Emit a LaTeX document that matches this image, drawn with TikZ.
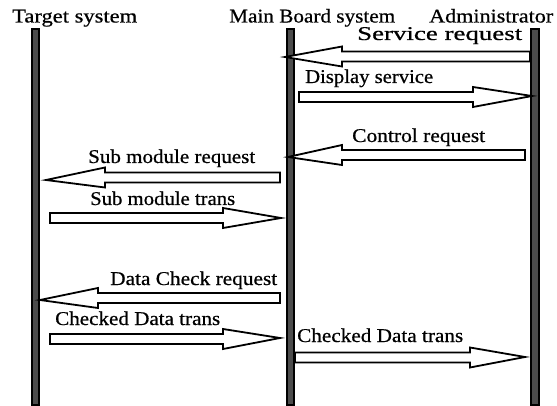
\documentclass[tikz,border=0pt]{standalone}
\usepackage{graphicx}
\usepackage{fontspec}
\setmainfont{Liberation Serif}[FakeBold=0.6]
\usetikzlibrary{calc}
\tikzset{
  lifeline/.style={draw=black, line width=1.6pt, fill=black!70, minimum width=7.5pt, minimum height=376pt, inner sep=0pt},
  lbl/.style={anchor=base west, inner sep=0pt, font=\fontsize{19.5}{22}\selectfont},
  blockarr/.style={draw=black, line width=1.8pt, fill=white, line join=miter},
}
\newcommand{\fitw}[2]{\resizebox{#1}{\height}{#2}}
\newcommand{\blockarrow}[3]{%
  \draw[blockarr] let \p1=(#1), \p2=(#2), \n1={ifthenelse(\x2>\x1,1,-1)} in
   (\x1,\y1+5pt) -- ({\x2-(\n1)*#3},\y1+5pt) -- ({\x2-(\n1)*#3},\y1+10pt) -- (\x2,\y2)
   -- ({\x2-(\n1)*#3},\y1-10pt) -- ({\x2-(\n1)*#3},\y1-5pt) -- (\x1,\y1-5pt) -- cycle;}
\begin{document}
\begin{tikzpicture}[x=1pt,y=-1pt]
\useasboundingbox (0,0) rectangle (557,406);
% lifelines
\node[lifeline] (tgt) at (35.5,217) {};
\node[lifeline] (mb)  at (290.5,217) {};
\node[lifeline] (adm) at (535,217) {};
% titles
\node[lbl] (t-tgt) at (12,22.5)  {\fitw{125pt}{Target system}};
\node[lbl] (t-mb)  at (229,22.5) {\fitw{166pt}{Main Board system}};
\node[lbl] (t-adm) at (429,22.5) {\fitw{124pt}{Administrator}};
% message endpoints
\coordinate (sr-a)  at (530,56.5);  \coordinate (sr-b)  at (285,57);
\coordinate (ds-a)  at (299,97);    \coordinate (ds-b)  at (532,96);
\coordinate (cr-a)  at (525,155);   \coordinate (cr-b)  at (288,157);
\coordinate (smr-a) at (280,177.5); \coordinate (smr-b) at (46,180);
\coordinate (smt-a) at (50,218);    \coordinate (smt-b) at (281,218);
\coordinate (dcr-a) at (280,298);   \coordinate (dcr-b) at (40,300);
\coordinate (cdl-a) at (50,339);    \coordinate (cdl-b) at (280,338);
\coordinate (cdr-a) at (295,357.5); \coordinate (cdr-b) at (525,357);
% arrows
\blockarrow{sr-a}{sr-b}{57pt}
\blockarrow{ds-a}{ds-b}{59pt}
\blockarrow{cr-a}{cr-b}{54pt}
\blockarrow{smr-a}{smr-b}{59pt}
\blockarrow{smt-a}{smt-b}{58pt}
\blockarrow{dcr-a}{dcr-b}{58pt}
\blockarrow{cdl-a}{cdl-b}{57pt}
\blockarrow{cdr-a}{cdr-b}{55pt}
% labels
\node[lbl] (l-sr)  at (357,40)   {\fitw{165pt}{Service request}};
\node[lbl] (l-ds)  at (305,83)   {\fitw{128pt}{Display service}};
\node[lbl] (l-cr)  at (352,142)  {\fitw{133pt}{Control request}};
\node[lbl] (l-smr) at (88,163)   {\fitw{167pt}{Sub module request}};
\node[lbl] (l-smt) at (90,205)   {\fitw{145pt}{Sub module trans}};
\node[lbl] (l-dcr) at (110,285)  {\fitw{167pt}{Data Check request}};
\node[lbl] (l-cdl) at (55,325)   {\fitw{165pt}{Checked Data trans}};
\node[lbl] (l-cdr) at (297,342)  {\fitw{166pt}{Checked Data trans}};
\end{tikzpicture}
\end{document}
